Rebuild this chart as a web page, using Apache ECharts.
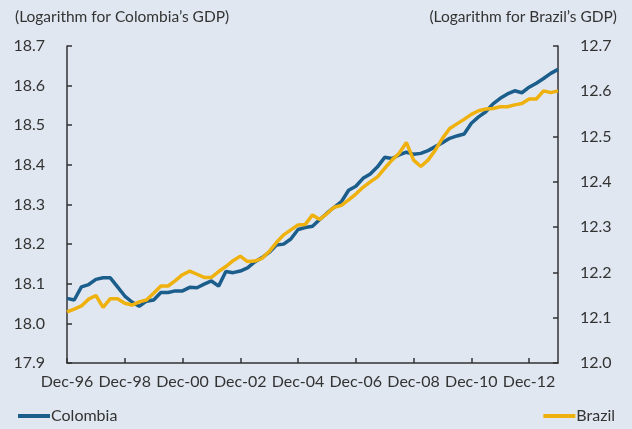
<!DOCTYPE html>
<html>
<head>
<meta charset="utf-8">
<script src="https://cdn.jsdelivr.net/npm/echarts@6/dist/echarts.min.js"></script>
<style>
  html, body { margin: 0; padding: 0; background: #e1e7f1; }
  #chart { width: 632px; height: 429px; }
</style>
</head>
<body>
<div id="chart"></div>
<script>
// quarterly labels, Dec-96 .. Dec-13
const months = ['Mar', 'Jun', 'Sep', 'Dec']
const quarters = []
for (let y = 1996; y <= 2013; y++) {
  months.forEach((m, q) => {
    if (y === 1996 && q < 3) return
    quarters.push(m + '-' + String(y).slice(2))
  })
}

// log of GDP, Colombia (left axis)
const colombia = [
  18.063, 18.059, 18.092, 18.098, 18.111, 18.115, 18.115, 18.092, 18.069, 18.054,
  18.043, 18.056, 18.059, 18.078, 18.078, 18.082, 18.082, 18.091, 18.090, 18.099,
  18.107, 18.094, 18.131, 18.128, 18.132, 18.140, 18.155, 18.166, 18.179, 18.198,
  18.200, 18.213, 18.237, 18.242, 18.245, 18.262, 18.278, 18.293, 18.307, 18.336,
  18.346, 18.366, 18.377, 18.395, 18.419, 18.416, 18.425, 18.432, 18.427, 18.429,
  18.436, 18.446, 18.456, 18.467, 18.473, 18.478, 18.505, 18.521, 18.534, 18.554,
  18.568, 18.579, 18.587, 18.582, 18.596, 18.606, 18.618, 18.631, 18.641
]

// log of GDP, Brazil (right axis)
const brazil = [
  12.113, 12.119, 12.126, 12.141, 12.149, 12.123, 12.142, 12.142, 12.132, 12.128,
  12.135, 12.139, 12.154, 12.170, 12.170, 12.182, 12.195, 12.203, 12.196, 12.189,
  12.189, 12.202, 12.213, 12.226, 12.236, 12.224, 12.225, 12.231, 12.246, 12.266,
  12.283, 12.294, 12.305, 12.306, 12.327, 12.317, 12.330, 12.344, 12.348, 12.360,
  12.373, 12.388, 12.400, 12.411, 12.430, 12.448, 12.463, 12.487, 12.448, 12.434,
  12.448, 12.470, 12.496, 12.518, 12.528, 12.538, 12.549, 12.557, 12.561, 12.562,
  12.566, 12.566, 12.570, 12.573, 12.583, 12.583, 12.601, 12.597, 12.601
]

const leftTitle = '(Logarithm for Colombia\u2019s GDP)'
const rightTitle = '(Logarithm for Brazil\u2019s GDP)'

const font = 'Lato'
const textColor = '#333'
const axisColor = '#333'

const chart = echarts.init(document.getElementById('chart'))

const axisCommon = {
  axisLine: { show: true, lineStyle: { color: axisColor, width: 1.5 } },
  axisTick: { show: true, inside: true, length: 5, lineStyle: { color: axisColor, width: 1.5 } },
  splitLine: { show: false },
  axisLabel: {
    color: textColor,
    fontFamily: font,
    fontSize: 16,
    margin: 22,
    formatter: v => v.toFixed(1)
  }
}

const options = {
  backgroundColor: '#e1e7f1',
  animation: false,
  title: [
    {
      text: leftTitle,
      left: 10,
      top: 4,
      textStyle: { color: textColor, fontFamily: font, fontSize: 15.5, fontWeight: 'normal' }
    },
    {
      text: rightTitle,
      right: 10,
      top: 4,
      textStyle: { color: textColor, fontFamily: font, fontSize: 15.5, fontWeight: 'normal' }
    }
  ],
  legend: [
    {
      data: ['Colombia'],
      left: 13,
      bottom: 0,
      icon: 'rect',
      itemWidth: 32,
      itemHeight: 4,
      textStyle: { color: textColor, fontFamily: font, fontSize: 16, padding: [0, 0, 0, -4] }
    },
    {
      data: ['Brazil'],
      right: 12,
      bottom: 0,
      icon: 'rect',
      itemWidth: 32,
      itemHeight: 4,
      textStyle: { color: textColor, fontFamily: font, fontSize: 16, padding: [0, 0, 0, -4] }
    }
  ],
  grid: { left: 67, right: 74, top: 46, bottom: 66 },
  xAxis: {
    type: 'category',
    data: quarters,
    boundaryGap: false,
    axisLine: { lineStyle: { color: axisColor, width: 1.5 } },
    axisTick: { inside: true, length: 5, interval: 7, lineStyle: { color: axisColor, width: 1.5 } },
    axisLabel: { interval: 7, color: textColor, fontFamily: font, fontSize: 16, margin: 11 }
  },
  yAxis: [
    Object.assign({}, axisCommon, {
      type: 'value',
      position: 'left',
      min: 17.9,
      max: 18.7,
      interval: 0.1
    }),
    Object.assign({}, axisCommon, {
      type: 'value',
      position: 'right',
      min: 12.0,
      max: 12.7,
      interval: 0.1
    })
  ],
  series: [
    {
      name: 'Colombia',
      type: 'line',
      data: colombia,
      yAxisIndex: 0,
      showSymbol: false,
      color: '#1b5e8c',
      lineStyle: { width: 3.5 }
    },
    {
      name: 'Brazil',
      type: 'line',
      data: brazil,
      yAxisIndex: 1,
      showSymbol: false,
      color: '#efb10e',
      lineStyle: { width: 3.5 }
    }
  ]
}

chart.setOption(options)
</script>
</body>
</html>
